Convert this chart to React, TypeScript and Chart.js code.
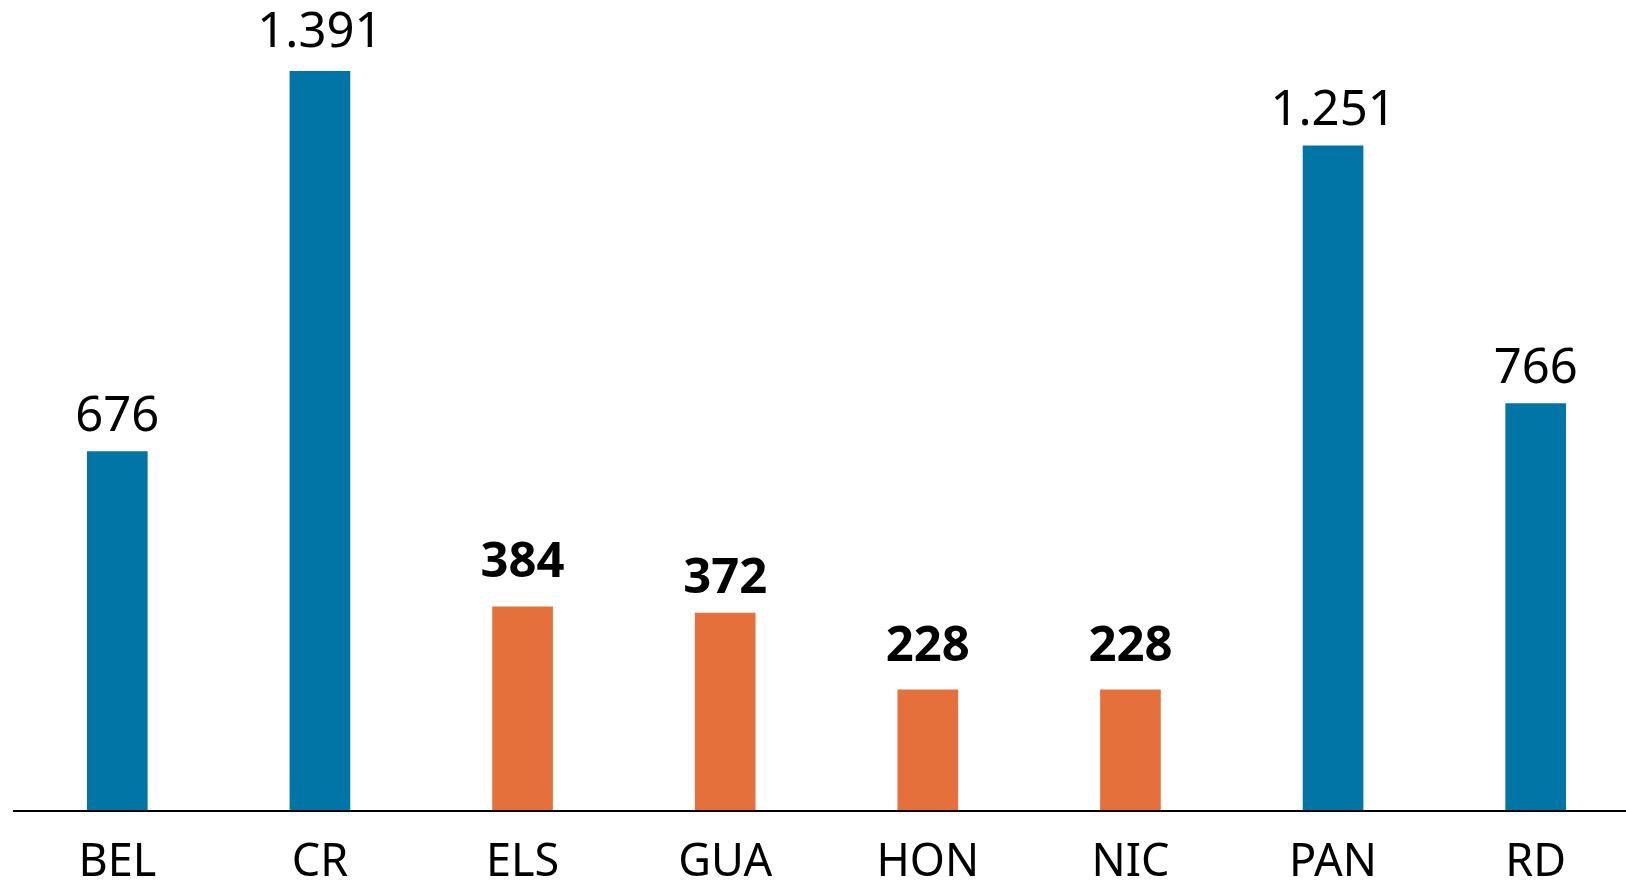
import React, { useEffect, useRef } from "react";
import { Chart, registerables } from "chart.js";

Chart.register(...registerables);

const categories = ["BEL", "CR", "ELS", "GUA", "HON", "NIC", "PAN", "RD"];
const values = [676, 1391, 384, 372, 228, 228, 1251, 766];
const highlighted = [false, false, true, true, true, true, false, false];
const valueLabels = ["676", "1.391", "384", "372", "228", "228", "1.251", "766"];

const BLUE = "#0275A7";
const ORANGE = "#E5703C";
const FONT = "'Noto Sans', sans-serif";
const labelGaps = [21, 24, 30, 20, 29, 29, 21, 21];

const valueLabelPlugin = {
  id: "valueLabels",
  afterDatasetsDraw(chart: any) {
    const ctx = chart.ctx;
    const meta = chart.getDatasetMeta(0);
    const yScale = chart.scales.y;
    const zeroY = yScale.getPixelForValue(0);
    ctx.save();
    ctx.strokeStyle = "#000";
    ctx.lineWidth = 2;
    ctx.beginPath();
    ctx.moveTo(13, zeroY);
    ctx.lineTo(chart.width, zeroY);
    ctx.stroke();
    ctx.fillStyle = "#000";
    ctx.textAlign = "center";
    ctx.textBaseline = "alphabetic";
    meta.data.forEach((bar: any, i: number) => {
      ctx.font = (highlighted[i] ? "700 " : "400 ") + "49px " + FONT;
      ctx.fillText(valueLabels[i], bar.x, bar.y - labelGaps[i]);
    });
    ctx.restore();
  },
};

export default function App() {
  const ref = useRef<HTMLCanvasElement | null>(null);
  useEffect(() => {
    if (!ref.current) return;
    const chart = new Chart(ref.current, {
      type: "bar",
      data: {
        labels: categories,
        datasets: [
          {
            data: values,
            backgroundColor: highlighted.map((h) => (h ? ORANGE : BLUE)),
            barThickness: 60,
            borderWidth: 0,
          },
        ],
      },
      options: {
        animation: false,
        responsive: false,
        devicePixelRatio: 1,
        layout: { padding: { left: 16, right: 3, top: 0, bottom: -35 } },
        plugins: { legend: { display: false }, tooltip: { enabled: false } },
        scales: {
          y: { display: false, min: 0, max: 1525 },
          x: {
            grid: { display: false, drawTicks: false },
            border: { display: false },
            ticks: {
              color: "#000",
              padding: 25,
              font: { family: FONT, size: 45, weight: "400" as any },
              maxRotation: 0,
              autoSkip: false,
            },
          },
        },
      },
      plugins: [valueLabelPlugin],
    });
    return () => chart.destroy();
  }, []);
  return (
    <div
      style={{
        position: "fixed",
        left: 0,
        top: 0,
        width: 1626,
        height: 880,
        overflow: "hidden",
        background: "#fff",
      }}
    >
      <canvas ref={ref} width={1640} height={880} style={{ width: 1640, height: 880, display: "block" }} />
    </div>
  );
}
